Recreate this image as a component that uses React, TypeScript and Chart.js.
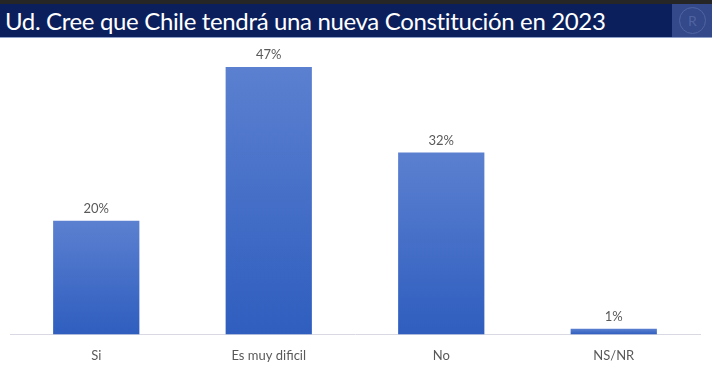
import React, { useEffect, useRef } from "react";
import { Chart, registerables } from "chart.js";

Chart.register(...registerables);

const categories = ["Si", "Es muy dificil", "No", "NS/NR"];
const values = [20, 47, 32, 1];
const valueLabels = ["20%", "47%", "32%", "1%"];
const titleText = "Ud. Cree que Chile tendrá una nueva Constitución en 2023";

const FONT = "Lato, 'Open Sans', sans-serif";

const valueLabelPlugin = {
  id: "valueLabels",
  afterDatasetsDraw(chart: any) {
    const ctx = chart.ctx;
    const meta = chart.getDatasetMeta(0);
    ctx.save();
    ctx.fillStyle = "#595959";
    ctx.font = `13px ${FONT}`;
    ctx.textAlign = "center";
    ctx.textBaseline = "middle";
    meta.data.forEach((bar: any, i: number) => {
      ctx.fillText(valueLabels[i], bar.x, bar.y - 12);
    });
    ctx.restore();
  },
};

export default function App() {
  const canvasRef = useRef<HTMLCanvasElement | null>(null);

  useEffect(() => {
    const canvas = canvasRef.current;
    if (!canvas) return;
    const chart = new Chart(canvas, {
      type: "bar",
      data: {
        labels: categories,
        datasets: [
          {
            data: values,
            barPercentage: 0.5,
            categoryPercentage: 1,
            borderWidth: 0,
            backgroundColor: (c: any) => {
              const ch = c.chart;
              const y = ch.scales && ch.scales.y;
              if (!ch.chartArea || !y || c.raw === undefined) return "#4a72c9";
              const top = y.getPixelForValue(c.raw);
              const base = y.getPixelForValue(0);
              if (!isFinite(top) || !isFinite(base) || base - top < 1) return "#3563c2";
              const g = ch.ctx.createLinearGradient(0, top, 0, base);
              g.addColorStop(0, "#5b80d0");
              g.addColorStop(1, "#2f5ebf");
              return g;
            },
          },
        ],
      },
      options: {
        animation: false,
        responsive: false,
        maintainAspectRatio: false,
        layout: { padding: { top: 50, left: 10, right: 12, bottom: 5 } },
        plugins: {
          legend: { display: false },
          title: { display: false },
          tooltip: { enabled: false },
        },
        scales: {
          x: {
            grid: { display: false, drawTicks: false },
            border: { display: true, color: "#d9d9e3", width: 1 },
            ticks: {
              color: "#595959",
              font: { family: FONT, size: 13 },
              padding: 14,
            },
          },
          y: {
            display: false,
            min: 0,
            max: 50,
          },
        },
      },
      plugins: [valueLabelPlugin],
    });
    return () => chart.destroy();
  }, []);

  return (
    <div
      style={{
        position: "fixed",
        left: 0,
        top: 0,
        width: 712,
        height: 369,
        background: "#ffffff",
        overflow: "hidden",
      }}
    >
      <canvas
        ref={canvasRef}
        width={712}
        height={383}
        style={{ position: "absolute", left: 0, top: 0, width: 712, height: 383 }}
      />
      <div
        style={{
          position: "absolute",
          left: 0,
          top: 0,
          width: 712,
          height: 4,
          background: "#262626",
        }}
      />
      <div
        style={{
          position: "absolute",
          left: 0,
          top: 4,
          width: 712,
          height: 33,
          background: "#0b1f5c",
          borderBottom: "1px solid #8e9fc9",
        }}
      >
        <div
          style={{
            position: "absolute",
            left: 5,
            top: 0,
            height: 33,
            lineHeight: "33px",
            color: "#ffffff",
            fontFamily: FONT,
            fontSize: 24,
            letterSpacing: -0.35,
            whiteSpace: "nowrap",
          }}
        >
          {titleText}
        </div>
        <div
          style={{
            position: "absolute",
            left: 672,
            top: 0,
            width: 40,
            height: 33,
            background: "#34498a",
          }}
        >
          <div
            style={{
              position: "absolute",
              left: 7,
              top: 3,
              width: 25,
              height: 25,
              borderRadius: "50%",
              border: "1px solid #4f64a0",
              color: "#4f64a0",
              fontFamily: FONT,
              fontSize: 14,
              lineHeight: "25px",
              textAlign: "center",
            }}
          >
            R
          </div>
        </div>
      </div>
    </div>
  );
}
